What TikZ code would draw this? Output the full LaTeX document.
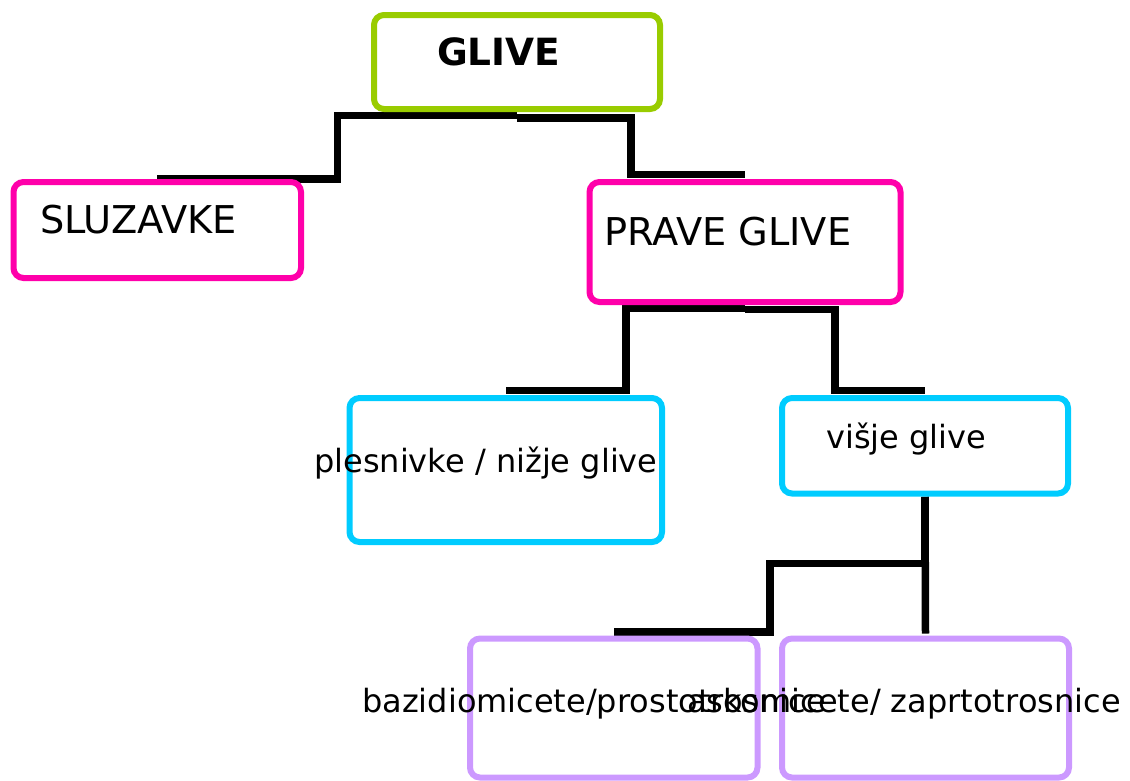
\documentclass[tikz,border=0pt]{standalone}
\usepackage{fontspec}
\setmainfont{DejaVu Sans}
\usetikzlibrary{calc,backgrounds}
\definecolor{cgreen}{HTML}{99CC00}
\definecolor{cpink}{HTML}{FF00AA}
\definecolor{ccyan}{HTML}{00CCFF}
\definecolor{cpurple}{HTML}{CC99FF}
\tikzset{
  box/.style={draw=#1, line width=6pt, rounded corners=10pt, rectangle, inner sep=0pt},
  conn/.style={draw=black, line width=7.5pt, line cap=butt, line join=miter},
  bigtxt/.style={anchor=base west, inner sep=0pt, font=\fontsize{38.3}{44}\selectfont},
  smalltxt/.style={anchor=base west, inner sep=0pt, font=\fontsize{32}{38}\selectfont},
}
\begin{document}
\begin{tikzpicture}[x=1pt,y=-1pt]
\useasboundingbox (0,0) rectangle (1130,780);
\clip (0,0) rectangle (1130,780);
% boxes
\node[box=cgreen, minimum width=286pt, minimum height=94pt] (glive) at (517,62) {};
\node[box=cpink, minimum width=287.5pt, minimum height=96pt] (sluz) at (157.25,230) {};
\node[box=cpink, minimum width=311pt, minimum height=120pt] (prave) at (745,242) {};
\node[box=ccyan, minimum width=312.5pt, minimum height=144pt] (plesn) at (505.75,470) {};
\node[box=ccyan, minimum width=286pt, minimum height=95.5pt] (visje) at (925,445.75) {};
\node[box=cpurple, minimum width=287.5pt, minimum height=139pt] (bazid) at (613.75,708) {};
\node[box=cpurple, minimum width=287pt, minimum height=139pt] (asko) at (925.5,708) {};
% texts
\node[bigtxt, font=\fontsize{37.5}{44}\selectfont\bfseries] (tglive) at (437,65) {GLIVE};
\node[bigtxt] (tsluz) at (40,233) {SLUZAVKE};
\node[bigtxt] (tprave) at (604,245) {PRAVE GLIVE};
\node[smalltxt] (tplesn) at (314,472) {plesnivke / nižje glive};
\node[smalltxt] (tvisje) at (826,448) {višje glive};
\node[smalltxt] (tbazid) at (362,712) {bazidiomicete/prostotrosnice};
\node[smalltxt] (tasko) at (687,712) {askomicete/ zaprtotrosnice};
% connectors
\begin{scope}[on background layer]
\draw[conn] ([yshift=-3.5pt]glive.south) -| ($(sluz.north)+(180pt,0pt)$) -- (sluz.north);
\draw[conn] ([yshift=-6pt]glive.south) -| ($(prave.north)+(-114pt,4.5pt)$) -- ([yshift=4.5pt]prave.north);
\draw[conn] ([yshift=-3.5pt]prave.south) -| ($(plesn.north)+(120pt,4.5pt)$) -- ([yshift=4.5pt]plesn.north);
\draw[conn] ([yshift=-4.5pt]prave.south) -| ($(visje.north)+(-90pt,4.5pt)$) -- ([yshift=4.5pt]visje.north);
\draw[conn] (visje.south) |- ($(bazid.north)+(156.25pt,72pt)$) |- ([yshift=3.5pt]bazid.north);
\draw[conn] (visje.south) -- ([yshift=2pt]asko.north);
\end{scope}
\end{tikzpicture}
\end{document}
